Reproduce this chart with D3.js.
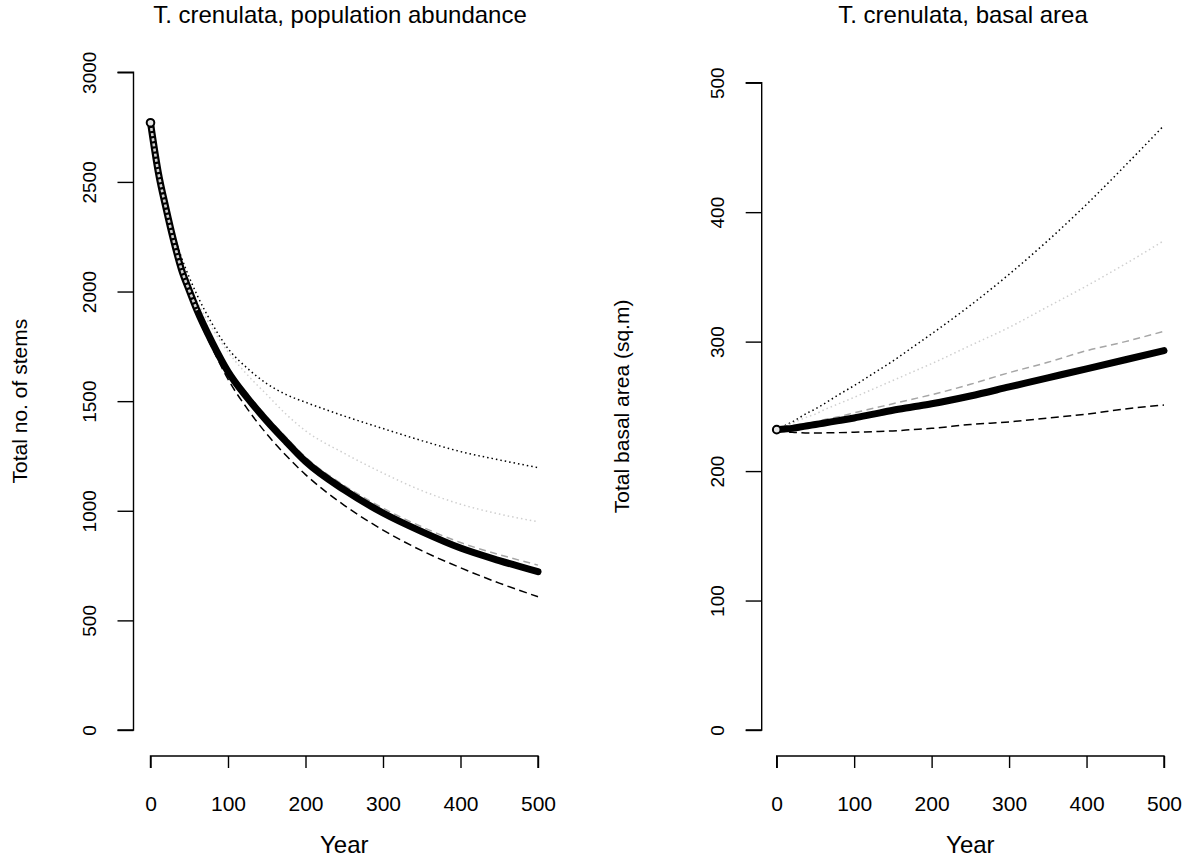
<!DOCTYPE html>
<html>
<head>
<meta charset="utf-8">
<script src="https://cdn.jsdelivr.net/npm/d3@7/dist/d3.min.js"></script>
<style>
  html, body { margin: 0; padding: 0; background: #fff; }
  svg { display: block; font-family: "Liberation Sans", Arial, sans-serif; }
</style>
</head>
<body>
<script>
// Projection years shared by every series
const years = [0, 10, 20, 30, 40, 50, 60, 80, 100, 125, 150, 175, 200, 250, 300, 350, 400, 450, 500];

// Population abundance (total number of stems) under each scenario
const stemsBase      = [2770, 2545, 2380, 2230, 2100, 2005, 1915, 1765, 1635, 1515, 1410, 1315, 1225, 1095, 990, 905, 830, 773, 722];
const stemsGreyDash  = [2770, 2545, 2380, 2230, 2100, 2007, 1920, 1775, 1650, 1533, 1430, 1335, 1245, 1115, 1012, 927, 855, 800, 752];
const stemsBlackDash = [2770, 2545, 2378, 2225, 2090, 1990, 1895, 1740, 1600, 1465, 1350, 1252, 1165, 1025, 912, 818, 740, 670, 608];
const stemsGreyDot   = [2770, 2548, 2388, 2245, 2125, 2035, 1955, 1830, 1725, 1620, 1530, 1440, 1365, 1262, 1172, 1092, 1030, 985, 950];
const stemsBlackDot  = [2770, 2552, 2398, 2265, 2155, 2065, 1985, 1850, 1740, 1650, 1580, 1530, 1495, 1432, 1375, 1320, 1270, 1232, 1197];

// Total basal area (sq.m) under each scenario
const basalBase      = [232, 232.5, 233, 234, 235, 236, 237, 239, 241, 244, 247, 249.5, 252, 258, 265, 272, 279, 286, 293];
const basalGreyDash  = [232, 233, 234.5, 235.5, 237, 238, 239.5, 242, 245, 248.5, 252, 255.5, 259, 267, 276, 284, 293, 300, 308];
const basalBlackDash = [232, 230.5, 230, 229.7, 229.5, 229.5, 229.5, 229.7, 230, 230.5, 231, 232, 233, 236, 238, 241, 244, 248, 251];
const basalGreyDot   = [232, 234.5, 237, 239.5, 242, 244, 247, 252, 257, 263.5, 270, 276.5, 283, 297, 311, 327, 343, 360, 378];
const basalBlackDot  = [232, 235, 238, 241.5, 245, 248, 251.5, 259, 266, 275.5, 285, 295.5, 306, 328, 352, 378, 406, 436, 467];

const xTicks = [0, 100, 200, 300, 400, 500];
const stemTicks = [0, 500, 1000, 1500, 2000, 2500, 3000];
const basalTicks = [0, 100, 200, 300, 400, 500];

const W = 1192, H = 859;
const svg = d3.select("body").append("svg").attr("width", W).attr("height", H);

// line styles for the four alternative scenarios (drawn in this order)
const styles = [
  { key: "blackDot",  color: "#000",    width: 1.5, dash: "1.5 3" },
  { key: "greyDot",   color: "#cfcfcf", width: 1.5, dash: "1.5 3" },
  { key: "greyDash",  color: "#a6a6a6", width: 1.5, dash: "7 4.5" },
  { key: "blackDash", color: "#000",    width: 1.5, dash: "8 4.5" }
];

function panel(opts) {
  const g = svg.append("g");
  const x = d3.scaleLinear().domain([0, 500]).range([opts.x0, opts.x1]);
  const y = d3.scaleLinear().domain([opts.yMin, opts.yMax]).range([opts.yBottom, opts.yTop]);

  // x axis
  const xAxis = d3.axisBottom(x).tickValues(xTicks).tickSize(12).tickPadding(28).tickFormat(d3.format("d"));
  const gx = g.append("g").attr("transform", `translate(0,${opts.xAxisY})`).call(xAxis);
  // y axis
  const yAxis = d3.axisLeft(y).tickValues(opts.yTicks).tickSize(16).tickPadding(0).tickFormat(d3.format("d"));
  const gy = g.append("g").attr("transform", `translate(${opts.yAxisX},0)`).call(yAxis);

  [gx, gy].forEach(a => {
    a.select(".domain").attr("stroke", "#000").attr("stroke-width", 1.4);
    a.selectAll(".tick line").attr("stroke", "#000").attr("stroke-width", 1.4);
    a.selectAll(".tick text").attr("fill", "#000");
  });
  gx.selectAll(".tick text").style("font-size", "21px").attr("dy", "0.71em");
  gy.selectAll(".tick text").style("font-size", "19px");
  // R-style axis lines spanning only the tick range
  gx.select(".domain").attr("d", `M${x(0)},12V0H${x(500)}V12`);
  gy.select(".domain").attr("d", `M-16,${y(opts.yTicks[opts.yTicks.length - 1])}H0V${y(0)}H-16`);

  // y tick labels run parallel to the axis
  gy.selectAll(".tick text")
    .attr("x", null)
    .attr("text-anchor", "middle")
    .attr("transform", `translate(${-opts.yLabelOffset},0) rotate(-90)`)
    .attr("dy", "0.35em");

  // titles and axis labels
  g.append("text").attr("x", opts.titleX).attr("y", 23).attr("text-anchor", "middle")
    .style("font-size", "24px").text(opts.title);
  g.append("text").attr("x", (opts.x0 + opts.x1) / 2).attr("y", 853).attr("text-anchor", "middle")
    .style("font-size", "24px").text("Year");
  g.append("text").attr("transform", `translate(${opts.yTitleX},${(opts.yBottom + opts.yTop) / 2}) rotate(-90)`)
    .attr("text-anchor", "middle").style("font-size", "21px").text(opts.yTitle);

  const line = d3.line().x((d, i) => x(years[i])).y(d => y(d)).curve(d3.curveMonotoneX);

  styles.forEach(s => {
    g.append("path").datum(opts.series[s.key])
      .attr("d", line).attr("fill", "none")
      .attr("stroke", s.color).attr("stroke-width", s.width)
      .attr("stroke-dasharray", s.dash);
  });

  // baseline scenario: heavy line drawn over the others
  g.append("path").datum(opts.series.base)
    .attr("d", line).attr("fill", "none")
    .attr("stroke", "#000").attr("stroke-width", 7)
    .attr("stroke-linecap", "round").attr("stroke-linejoin", "round");

  // the plotted points show as open rings where the heavy line is steep
  if (opts.ringYears) {
    const idx = years.map((yr, i) => i).filter(i => years[i] <= opts.ringYears);
    const lineSub = d3.line().x(i => x(years[i])).y(i => y(opts.series.base[i])).curve(d3.curveMonotoneX);
    g.append("path").datum(idx)
      .attr("d", lineSub).attr("fill", "none")
      .attr("stroke", "#cfcfcf").attr("stroke-width", 2.6)
      .attr("stroke-dasharray", "3 2.2");
  }
  g.append("circle")
    .attr("cx", x(years[0])).attr("cy", y(opts.series.base[0])).attr("r", 3.8)
    .attr("fill", "#e6e6e6").attr("stroke", "#000").attr("stroke-width", 2);
}

panel({
  title: "T. crenulata, population abundance", titleX: 340,
  yTitle: "Total no. of stems", yTitleX: 27,
  x0: 150.5, x1: 538, xAxisY: 756,
  yMin: 0, yMax: 3000, yBottom: 730, yTop: 72.3, yAxisX: 133.5, yTicks: stemTicks, yLabelOffset: 44,
  ringYears: 60,
  series: { base: stemsBase, greyDash: stemsGreyDash, blackDash: stemsBlackDash, greyDot: stemsGreyDot, blackDot: stemsBlackDot }
});

panel({
  title: "T. crenulata, basal area", titleX: 963,
  yTitle: "Total basal area (sq.m)", yTitleX: 629,
  x0: 776.7, x1: 1164, xAxisY: 756,
  yMin: 0, yMax: 500, yBottom: 730, yTop: 82.7, yAxisX: 761.7, yTicks: basalTicks, yLabelOffset: 44,
  ringYears: null,
  series: { base: basalBase, greyDash: basalGreyDash, blackDash: basalBlackDash, greyDot: basalGreyDot, blackDot: basalBlackDot }
});
</script>
</body>
</html>
